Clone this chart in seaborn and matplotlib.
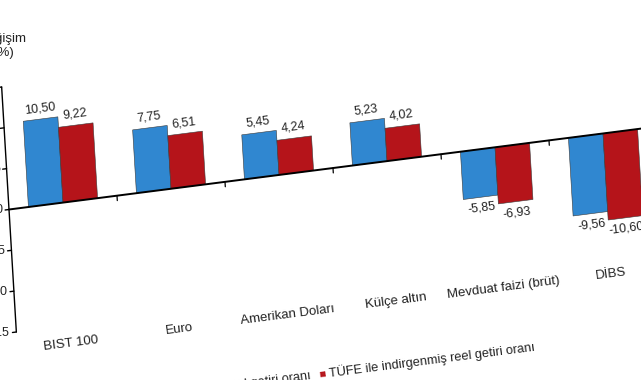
import numpy as np
import pandas as pd
import matplotlib
matplotlib.use('Agg')
import matplotlib.pyplot as plt
import matplotlib.transforms as mtransforms
import seaborn as sns

# veriler
categories = ['BIST 100', 'Euro', 'Amerikan Doları', 'Külçe altın',
              'Mevduat faizi (brüt)', 'DİBS']
nominal = [10.50, 7.75, 5.45, 5.23, -5.85, -9.56]
reel = [9.22, 6.51, 4.24, 4.02, -6.93, -10.60]
series = ['Nominal getiri oranı', 'TÜFE ile indirgenmiş reel getiri oranı']
colors = ['#3087d0', '#b5141a']
yticks = [-15, -10, -5, 0, 5, 10, 15]

df = pd.DataFrame({
    'kategori': categories * 2,
    'deger': nominal + reel,
    'seri': [series[0]] * len(categories) + [series[1]] * len(categories),
})

sns.set_style('white')
plt.rcParams['font.family'] = ['Liberation Sans', 'DejaVu Sans']

W, H, DPI = 641, 380, 100
fig = plt.figure(figsize=(W / DPI, H / DPI), dpi=DPI)
x0 = 9  # sol eksen (piksel)
ax = fig.add_axes([x0 / W, 48 / H, 648 / W, 245 / H])

sns.barplot(data=df, x='kategori', y='deger', hue='seri', palette=colors,
            width=0.64, saturation=1, legend=False, ax=ax,
            edgecolor='#3a3a3a', linewidth=0.4)

ax.set_xlim(-0.5, len(categories) - 0.5)
ax.set_ylim(-15, 15)
ax.set_yticks(yticks)
ax.set_xticks([])
ax.set_xlabel('')
ax.set_ylabel('')
for s in ['top', 'right', 'bottom', 'left']:
    ax.spines[s].set_visible(False)
ax.tick_params(axis='y', left=False, labelleft=False)

# perspektif benzeri egiklik (piksel koordinatlarinda)
k = 0.128   # yatay cizgilerin egimi
m = 0.06    # dikey cizgilerin egimi
ang = np.degrees(np.arctan(k))
y0 = 48 + 245 / 2  # sifir cizgisi (piksel)
shear = (mtransforms.Affine2D().translate(-x0, -y0)
         + mtransforms.Affine2D(np.array([[1, -m, 0], [k, 1, 0], [0, 0, 1]]))
         + mtransforms.Affine2D().translate(x0, y0))
tdata = ax.transData + shear
tax = ax.transAxes + shear

for p in ax.patches:
    p.set_transform(tdata)
    p.set_clip_on(False)

# sol eksen ve tikler
ax.plot([-0.5, -0.5], [-15, 15], color='black', lw=1.0, transform=tdata, clip_on=False)
for t in yticks:
    ax.plot([-0.536, -0.5], [t, t], color='black', lw=1.0,
            transform=tdata, clip_on=False)
    ax.text(-0.56, t, str(t), ha='right', va='center', fontsize=9,
            color='#222222', transform=tdata, clip_on=False)

zero = ax.axhline(0, color='black', lw=1.4, clip_on=False)
zero.set_transform(zero.get_transform() + shear)

# kategori ayraclari
for b in np.arange(0.5, len(categories) - 0.5, 1):
    ax.plot([b, b], [0, -0.6], color='black', lw=0.9, transform=tdata, clip_on=False)

# deger etiketleri
for p in ax.patches:
    h = p.get_height()
    xc = p.get_x() + p.get_width() / 2
    lab = f'{h:.2f}'.replace('.', ',')
    if h >= 0:
        ax.text(xc, h + 0.6, lab, ha='center', va='bottom', fontsize=9,
                color='#222222', rotation=ang, rotation_mode='anchor',
                transform=tdata, clip_on=False)
    else:
        ax.text(xc, h - 0.6, lab, ha='center', va='top', fontsize=9,
                color='#222222', rotation=ang, rotation_mode='anchor',
                transform=tdata, clip_on=False)

# kategori etiketleri
for i, c in enumerate(categories):
    ax.text(i, -17.2, c, ha='center', va='center', fontsize=9.5,
            color='#222222', rotation=ang, rotation_mode='anchor',
            transform=tdata, clip_on=False)

# lejant
ly = -0.33
ax.text(0.268, ly, '■', color=colors[0], fontsize=8, ha='center', va='center',
        rotation=ang, rotation_mode='anchor', transform=tax, clip_on=False)
ax.text(0.278, ly, series[0], color='#222222', fontsize=9.2, ha='left', va='center',
        rotation=ang, rotation_mode='anchor', transform=tax, clip_on=False)
ax.text(0.4645, ly, '■', color=colors[1], fontsize=8, ha='center', va='center',
        rotation=ang, rotation_mode='anchor', transform=tax, clip_on=False)
ax.text(0.4745, ly, series[1], color='#222222', fontsize=9.2, ha='left', va='center',
        rotation=ang, rotation_mode='anchor', transform=tax, clip_on=False)

# eksen basligi
fig.text(3 / W, 1 - 46 / H, 'Değişim\n(%)', ha='center', va='center',
         fontsize=9.5, color='#222222', linespacing=1.3)

fig.savefig('out.png', dpi=DPI)
